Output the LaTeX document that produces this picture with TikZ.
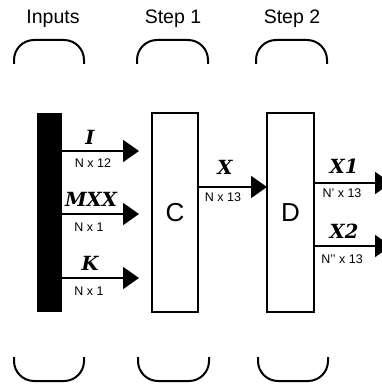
\documentclass[tikz,border=0pt]{standalone}
\usepackage{fontspec}
\setmainfont{Liberation Sans}
\newfontfamily\varfont{DejaVu Serif}
\usetikzlibrary{arrows.meta}
\tikzset{
  every node/.style={inner sep=0pt, outer sep=0pt},
  head/.style={font=\fontsize{19.5}{22}\selectfont, anchor=base},
  var/.style={font=\varfont\bfseries\itshape\fontsize{19.5}{22}\selectfont, anchor=base},
  dim/.style={font=\fontsize{12.5}{14}\selectfont, anchor=base},
  block/.style={draw, line width=1.5pt, fill=white},
  flow/.style={line width=2pt, -{Triangle[length=16pt,width=22pt]}},
  brace/.style={line width=2pt, rounded corners=20pt},
}
\begin{document}
\begin{tikzpicture}[x=1pt, y=-1pt]
  \useasboundingbox (0,0) rectangle (382,385);

  % column headings
  \node[head] (hin) at (53,24) {Inputs};
  \node[head] (hs1) at (173,24) {Step 1};
  \node[head] (hs2) at (292,24) {Step 2};

  % top and bottom brackets
  \draw[brace] (14,64) -- (14,40) -- (84,40) -- (84,64);
  \draw[brace] (137,64) -- (137,40) -- (208,40) -- (208,64);
  \draw[brace] (256,64) -- (256,40) -- (327,40) -- (327,64);
  \draw[brace] (14,357) -- (14,381) -- (84,381) -- (84,357);
  \draw[brace] (138,357) -- (138,381) -- (209,381) -- (209,357);
  \draw[brace] (258,357) -- (258,381) -- (328,381) -- (328,357);

  % input bar and processing blocks
  \path[fill=black] (37,113) rectangle (62,312);
  \coordinate (bar) at (62,212);
  \node[block, minimum width=46pt, minimum height=199pt] (C) at (175,212.5)
    {\fontsize{26}{28}\selectfont C};
  \node[block, minimum width=47pt, minimum height=199pt] (D) at (290.5,212.5)
    {\fontsize{26}{28}\selectfont D};

  % free arrow ends
  \coordinate (tI) at (139,151);
  \coordinate (tM) at (139,214);
  \coordinate (tK) at (139,278);
  \coordinate (tX1) at (391,183);
  \coordinate (tX2) at (391,246);

  % arrows
  \draw[flow] (bar |- tI) -- (tI);
  \draw[flow] (bar |- tM) -- (tM);
  \draw[flow] (bar |- tK) -- (tK);
  \draw[flow] (C.east |- 0,187) -- (D.west |- 0,187);
  \draw[flow] (D.east |- tX1) -- (tX1);
  \draw[flow] (D.east |- tX2) -- (tX2);

  % arrow labels
  \node[var] (lI) at (90,144) {I};
  \node[dim] (dI) at (93,167) {N x 12};
  \node[var] (lM) at (91,206) {MXX};
  \node[dim] (dM) at (89,231) {N x 1};
  \node[var] (lK) at (90,270) {K};
  \node[dim] (dK) at (89,295) {N x 1};
  \node[var] (lX) at (225,174) {X};
  \node[dim] (dX) at (223,201) {N x 13};
  \node[var] (lX1) at (344,173) {X1};
  \node[dim] (dX1) at (342,197) {N\textquoteright{} x 13};
  \node[dim] (dX2) at (342,263) {N\textquoteright\textquoteright{} x 13};
  \node[var] (lX2) at (344,238) {X2};
\end{tikzpicture}
\end{document}
